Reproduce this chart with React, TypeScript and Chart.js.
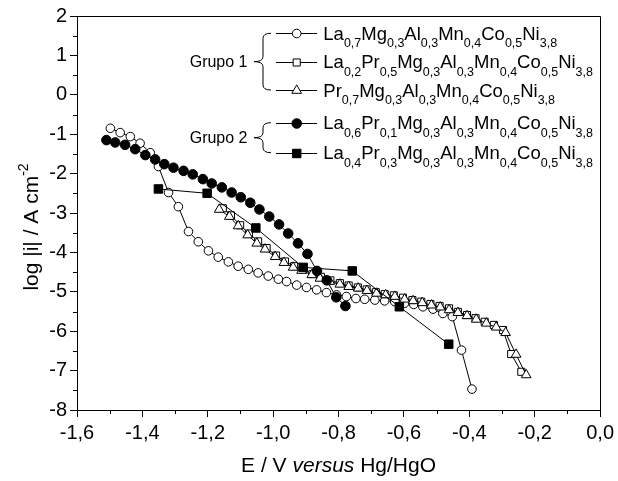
import React, { useEffect, useRef } from 'react';
import { Chart, registerables } from 'chart.js';
Chart.register(...registerables);

// ---- Data (E / V vs Hg/HgO, log|i|) ----
const g1aX = [-1.498,-1.468,-1.437,-1.407,-1.376,-1.351,-1.320,-1.290,-1.259,-1.229,-1.198,-1.168,-1.137,-1.107,-1.076,-1.046,-1.015,-0.984,-0.959,-0.928,-0.898,-0.867,-0.837,-0.806,-0.776,-0.747,-0.720,-0.689,-0.659,-0.628,-0.598,-0.570,-0.542,-0.511,-0.481,-0.452,-0.424,-0.392];
const g1aY = [-0.85,-0.96,-1.06,-1.23,-1.47,-1.82,-2.48,-2.84,-3.47,-3.73,-3.96,-4.12,-4.24,-4.35,-4.43,-4.52,-4.60,-4.68,-4.74,-4.83,-4.89,-4.95,-5.02,-5.08,-5.12,-5.17,-5.19,-5.21,-5.23,-5.25,-5.29,-5.32,-5.38,-5.44,-5.55,-5.63,-6.48,-7.47];

const g1bX = [-1.154,-1.129,-1.101,-1.074,-1.046,-1.020,-0.991,-0.964,-0.936,-0.909,-0.880,-0.854,-0.825,-0.796,-0.769,-0.741,-0.714,-0.686,-0.659,-0.631,-0.603,-0.574,-0.547,-0.519,-0.491,-0.462,-0.435,-0.407,-0.381,-0.353,-0.325,-0.297,-0.272,-0.241];
const g1bY = [-2.88,-3.06,-3.31,-3.52,-3.72,-3.89,-4.08,-4.23,-4.35,-4.43,-4.55,-4.62,-4.71,-4.78,-4.84,-4.89,-4.94,-5.01,-5.06,-5.09,-5.15,-5.21,-5.25,-5.31,-5.36,-5.42,-5.51,-5.59,-5.67,-5.76,-5.84,-5.97,-6.58,-7.03];

const g1cX = [-1.165,-1.134,-1.107,-1.078,-1.050,-1.025,-0.994,-0.967,-0.939,-0.913,-0.882,-0.857,-0.827,-0.796,-0.769,-0.740,-0.713,-0.684,-0.656,-0.628,-0.598,-0.572,-0.544,-0.516,-0.489,-0.462,-0.435,-0.407,-0.379,-0.348,-0.318,-0.289,-0.257,-0.226];
const g1cY = [-2.91,-3.09,-3.33,-3.56,-3.77,-3.92,-4.11,-4.26,-4.38,-4.46,-4.57,-4.66,-4.74,-4.81,-4.87,-4.91,-4.97,-5.04,-5.08,-5.12,-5.19,-5.23,-5.28,-5.34,-5.39,-5.46,-5.53,-5.61,-5.70,-5.80,-5.90,-6.04,-6.59,-7.11];

const g2aX = [-1.510,-1.483,-1.453,-1.422,-1.391,-1.361,-1.333,-1.305,-1.274,-1.246,-1.215,-1.188,-1.157,-1.127,-1.099,-1.070,-1.042,-1.012,-0.982,-0.954,-0.924,-0.895,-0.866,-0.836,-0.807,-0.779];
const g2aY = [-1.15,-1.21,-1.27,-1.38,-1.53,-1.64,-1.76,-1.85,-1.93,-2.02,-2.14,-2.25,-2.35,-2.48,-2.60,-2.74,-2.91,-3.09,-3.29,-3.52,-3.77,-4.04,-4.47,-4.71,-5.14,-5.36];

const g2bX = [-1.351,-1.202,-1.053,-0.908,-0.758,-0.614,-0.463];
const g2bY = [-2.39,-2.50,-3.38,-4.38,-4.47,-5.38,-6.33];

const legendLabels = [
  'La0,7Mg0,3Al0,3Mn0,4Co0,5Ni3,8',
  'La0,2Pr0,5Mg0,3Al0,3Mn0,4Co0,5Ni3,8',
  'Pr0,7Mg0,3Al0,3Mn0,4Co0,5Ni3,8',
  'La0,6Pr0,1Mg0,3Al0,3Mn0,4Co0,5Ni3,8',
  'La0,4Pr0,3Mg0,3Al0,3Mn0,4Co0,5Ni3,8',
];
const groupLabels = ['Grupo 1', 'Grupo 2'];
const xTicks = [-1.6, -1.4, -1.2, -1.0, -0.8, -0.6, -0.4, -0.2, 0.0];
const yTicks = [2, 1, 0, -1, -2, -3, -4, -5, -6, -7, -8];
const xTitle = ['E / V ', 'versus', ' Hg/HgO'];
const yTitle = ['log |i| / A cm', '-2'];

const toPts = (xs: number[], ys: number[]) => xs.map((x, i) => ({ x, y: ys[i] }));

const styles = [
  { pointStyle: 'circle', radius: 4.3, fill: '#ffffff' },
  { pointStyle: 'rect', radius: 5, fill: '#ffffff' },
  { pointStyle: 'triangle', radius: 5.6, fill: '#ffffff' },
  { pointStyle: 'circle', radius: 4.8, fill: '#000000' },
  { pointStyle: 'rect', radius: 6, fill: '#000000' },
];

const AX_FONT = "'Liberation Sans', Arial";
const LG_FONT = "'Liberation Sans', Arial";

function parseFormula(s: string): [string, boolean][] {
  const out: [string, boolean][] = [];
  const re = /([A-Z][a-z]*)(\d,\d)/g;
  let m: RegExpExecArray | null;
  while ((m = re.exec(s))) {
    out.push([m[1], false]);
    out.push([m[2], true]);
  }
  return out;
}

function drawMarker(ctx: CanvasRenderingContext2D, style: string, radius: number, x: number, y: number) {
  ctx.beginPath();
  if (style === 'circle') {
    ctx.arc(x, y, radius, 0, Math.PI * 2);
  } else if (style === 'rect') {
    const s = Math.SQRT1_2 * radius;
    ctx.rect(x - s, y - s, 2 * s, 2 * s);
  } else if (style === 'triangle') {
    let rad = 0;
    const T = (2 * Math.PI) / 3;
    ctx.moveTo(x + Math.sin(rad) * radius, y - Math.cos(rad) * radius);
    rad += T;
    ctx.lineTo(x + Math.sin(rad) * radius, y - Math.cos(rad) * radius);
    rad += T;
    ctx.lineTo(x + Math.sin(rad) * radius, y - Math.cos(rad) * radius);
    ctx.closePath();
  }
  ctx.fill();
  ctx.stroke();
}

const decorPlugin = {
  id: 'decor',
  afterDraw(chart: any) {
    const ctx = chart.ctx as CanvasRenderingContext2D;
    const { left, right, top, bottom } = chart.chartArea;
    const xs = chart.scales.x;
    const ys = chart.scales.y;
    ctx.save();
    ctx.strokeStyle = '#000';
    ctx.lineWidth = 1;
    // frame top & right
    ctx.beginPath();
    ctx.moveTo(Math.round(left) + 0.5, Math.round(top) + 0.5);
    ctx.lineTo(Math.round(right) + 0.5, Math.round(top) + 0.5);
    ctx.lineTo(Math.round(right) + 0.5, Math.round(bottom) + 0.5);
    ctx.stroke();
    // minor ticks
    ctx.beginPath();
    for (let i = 0; i < xTicks.length - 1; i++) {
      const v = (xTicks[i] + xTicks[i + 1]) / 2;
      const px = Math.round(xs.getPixelForValue(v)) + 0.5;
      ctx.moveTo(px, bottom);
      ctx.lineTo(px, bottom + 4);
    }
    for (let i = 0; i < yTicks.length - 1; i++) {
      const v = (yTicks[i] + yTicks[i + 1]) / 2;
      const py = Math.round(ys.getPixelForValue(v)) + 0.5;
      ctx.moveTo(left, py);
      ctx.lineTo(left - 4, py);
    }
    ctx.stroke();

    ctx.fillStyle = '#000';
    // x title
    const fx = `21px ${AX_FONT}`;
    const fxi = `italic 21px ${AX_FONT}`;
    ctx.font = fx;
    const w0 = ctx.measureText(xTitle[0]).width;
    const w2 = ctx.measureText(xTitle[2]).width;
    ctx.font = fxi;
    const w1 = ctx.measureText(xTitle[1]).width;
    const cx = (left + right) / 2;
    let sx = cx - (w0 + w1 + w2) / 2;
    const by = 472;
    ctx.textBaseline = 'alphabetic';
    ctx.textAlign = 'left';
    ctx.font = fx; ctx.fillText(xTitle[0], sx, by); sx += w0;
    ctx.font = fxi; ctx.fillText(xTitle[1], sx, by); sx += w1;
    ctx.font = fx; ctx.fillText(xTitle[2], sx, by);

    // y title
    ctx.save();
    ctx.translate(38, 227);
    ctx.rotate(-Math.PI / 2);
    ctx.font = `21px ${AX_FONT}`;
    const ym = ctx.measureText(yTitle[0]).width;
    ctx.font = `14px ${AX_FONT}`;
    const ysup = ctx.measureText(yTitle[1]).width;
    let tx = -(ym + ysup) / 2;
    ctx.font = `21px ${AX_FONT}`;
    ctx.fillText(yTitle[0], tx, 0);
    tx += ym;
    ctx.font = `14px ${AX_FONT}`;
    ctx.fillText(yTitle[1], tx, -10);
    ctx.restore();

    // legend
    const rowsY = [33.3, 61.7, 90, 122.7, 152.7];
    const lineX0 = 276, lineX1 = 317, markX = 296.7, textX = 323.3;
    rowsY.forEach((ry, i) => {
      ctx.strokeStyle = '#000';
      ctx.lineWidth = 1;
      ctx.beginPath();
      ctx.moveTo(lineX0, Math.round(ry) + 0.5);
      ctx.lineTo(lineX1, Math.round(ry) + 0.5);
      ctx.stroke();
      const st = styles[i];
      ctx.fillStyle = st.fill;
      drawMarker(ctx, st.pointStyle, st.radius, markX, Math.round(ry) + 0.5);
      ctx.fillStyle = '#000';
      let x = textX;
      for (const [t, sub] of parseFormula(legendLabels[i])) {
        if (sub) {
          ctx.font = `12.5px ${LG_FONT}`;
          ctx.fillText(t, x, ry + 14);
        } else {
          ctx.font = `18.5px ${LG_FONT}`;
          ctx.fillText(t, x, ry + 6.5);
        }
        x += ctx.measureText(t).width;
      }
    });

    // groups + braces
    ctx.font = `16px ${LG_FONT}`;
    ctx.textAlign = 'right';
    ctx.textBaseline = 'middle';
    const groups = [
      { y0: 33.3, y1: 90, label: groupLabels[0] },
      { y0: 122.7, y1: 152.7, label: groupLabels[1] },
    ];
    groups.forEach((g) => {
      const mid = (g.y0 + g.y1) / 2;
      ctx.fillText(g.label, 247.5, mid + 1);
      const sp = 263, tip = 254, end = 271, r = 5;
      ctx.beginPath();
      ctx.moveTo(end, g.y0);
      ctx.quadraticCurveTo(sp, g.y0, sp, g.y0 + r);
      ctx.lineTo(sp, mid - r);
      ctx.quadraticCurveTo(sp, mid, tip, mid);
      ctx.quadraticCurveTo(sp, mid, sp, mid + r);
      ctx.lineTo(sp, g.y1 - r);
      ctx.quadraticCurveTo(sp, g.y1, end, g.y1);
      ctx.stroke();
    });
    ctx.restore();
  },
};

export default function App() {
  const ref = useRef<HTMLCanvasElement>(null);
  useEffect(() => {
    if (!ref.current) return;
    const series = [
      toPts(g1aX, g1aY),
      toPts(g1bX, g1bY),
      toPts(g1cX, g1cY),
      toPts(g2aX, g2aY),
      toPts(g2bX, g2bY),
    ];
    const orders = [5, 4, 3, 2, 1];
    const chart = new Chart(ref.current, {
      type: 'scatter',
      data: {
        datasets: series.map((d, i) => ({
          label: legendLabels[i],
          data: d,
          showLine: true,
          borderColor: '#000',
          borderWidth: 1,
          pointStyle: styles[i].pointStyle as any,
          pointRadius: styles[i].radius,
          pointBackgroundColor: styles[i].fill,
          pointBorderColor: '#000',
          pointBorderWidth: 1,
          order: orders[i],
        })),
      },
      options: {
        animation: false,
        responsive: false,
        devicePixelRatio: 1,
        layout: { padding: { left: 0, right: 17, top: 16, bottom: 0 } },
        plugins: { legend: { display: false }, tooltip: { enabled: false } },
        scales: {
          x: {
            type: 'linear',
            min: -1.6,
            max: 0,
            afterFit: (s: any) => { s.height = 71; },
            afterBuildTicks: (s: any) => { s.ticks = xTicks.map((v) => ({ value: v })); },
            ticks: {
              color: '#000',
              padding: 4,
              font: { family: 'Liberation Sans', size: 20 },
              callback: (v: any) => (Math.round(Number(v) * 10) / 10).toFixed(1).replace('.', ','),
            },
            grid: { drawOnChartArea: false, tickLength: 7, tickColor: '#000', tickWidth: 1 },
            border: { color: '#000', width: 1 },
          },
          y: {
            type: 'linear',
            min: -8,
            max: 2,
            afterFit: (s: any) => { s.width = 77; },
            afterBuildTicks: (s: any) => { s.ticks = yTicks.map((v) => ({ value: v })); },
            ticks: {
              color: '#000',
              padding: 3,
              font: { family: 'Liberation Sans', size: 20 },
              callback: (v: any) => String(v),
            },
            grid: { drawOnChartArea: false, tickLength: 7, tickColor: '#000', tickWidth: 1 },
            border: { color: '#000', width: 1 },
          },
        },
      },
      plugins: [decorPlugin],
    });
    return () => chart.destroy();
  }, []);
  return (
    <div style={{ position: 'fixed', left: 0, top: 0, width: 618, height: 481, background: '#fff' }}>
      <canvas ref={ref} width={618} height={481} style={{ width: 618, height: 481, display: 'block' }} />
    </div>
  );
}
